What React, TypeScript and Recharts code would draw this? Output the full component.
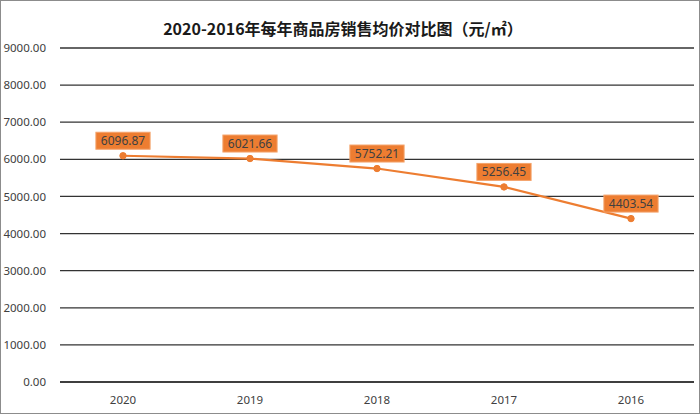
import React from "react";
import { LineChart, Line, XAxis, YAxis, CartesianGrid, LabelList } from "recharts";

const years = ["2020", "2019", "2018", "2017", "2016"];
const prices = [6096.87, 6021.66, 5752.21, 5256.45, 4403.54];
const yTicks = [0, 1000, 2000, 3000, 4000, 5000, 6000, 7000, 8000, 9000];
const title = "2020-2016年每年商品房销售均价对比图（元/㎡）";

const data = years.map((y, i) => ({ year: y, price: prices[i] }));

const ORANGE = "#ED7D31";

const PriceLabel = (props: any) => {
  const { x, y, value } = props;
  const text = Number(value).toFixed(2);
  const w = text.length * 6.6 + 8;
  const h = 17;
  const cy = y - 15;
  return (
    <g>
      <rect x={x - w / 2} y={cy - h / 2} width={w} height={h} fill={ORANGE} stroke="#F4A36B" strokeWidth={1} />
      <text x={x} y={cy + 4.5} textAnchor="middle" fontSize={12} fill="#404040" fontFamily="'Noto Sans', sans-serif">
        {text}
      </text>
    </g>
  );
};

export default function App() {
  return (
    <div
      style={{
        position: "absolute",
        left: 0,
        top: 0,
        width: 700,
        height: 414,
        boxSizing: "border-box",
        border: "1px solid #8c8c8c",
        background: "#fff",
        overflow: "hidden",
      }}
    >
      <div
        style={{
          position: "absolute",
          left: 0,
          top: 17,
          width: 684,
          textAlign: "center",
          fontFamily: "'Noto Sans CJK SC', sans-serif",
          fontWeight: 700,
          fontSize: 16,
          color: "#1a1a1a",
          lineHeight: "20px",
        }}
      >
        {title}
      </div>
      <div style={{ position: "absolute", left: -1, top: -1 }}>
        <LineChart width={700} height={414} data={data} margin={{ top: 48, right: 6, bottom: 0, left: 0 }}>
          <CartesianGrid vertical={false} stroke="#333333" strokeWidth={1.3} />
          <XAxis
            dataKey="year"
            axisLine={{ stroke: "#333333", strokeWidth: 1.3 }}
            tickLine={false}
            height={32}
            tickMargin={8}
            padding={{ left: 63, right: 63 }}
            tick={{ fill: "#404040", fontSize: 11.5, fontFamily: "'Noto Sans', sans-serif" }}
          />
          <YAxis
            domain={[0, 9000]}
            ticks={yTicks}
            width={60}
            axisLine={false}
            tickLine={false}
            tickMargin={8}
            tickFormatter={(v: number) => v.toFixed(2)}
            tick={{ fill: "#404040", fontSize: 11.5, fontFamily: "'Noto Sans', sans-serif" }}
          />
          <Line
            type="linear"
            dataKey="price"
            stroke={ORANGE}
            strokeWidth={2.2}
            dot={{ r: 3.2, fill: ORANGE, stroke: ORANGE, strokeWidth: 1 }}
            isAnimationActive={false}
          >
            <LabelList dataKey="price" content={PriceLabel} />
          </Line>
        </LineChart>
      </div>
    </div>
  );
}
